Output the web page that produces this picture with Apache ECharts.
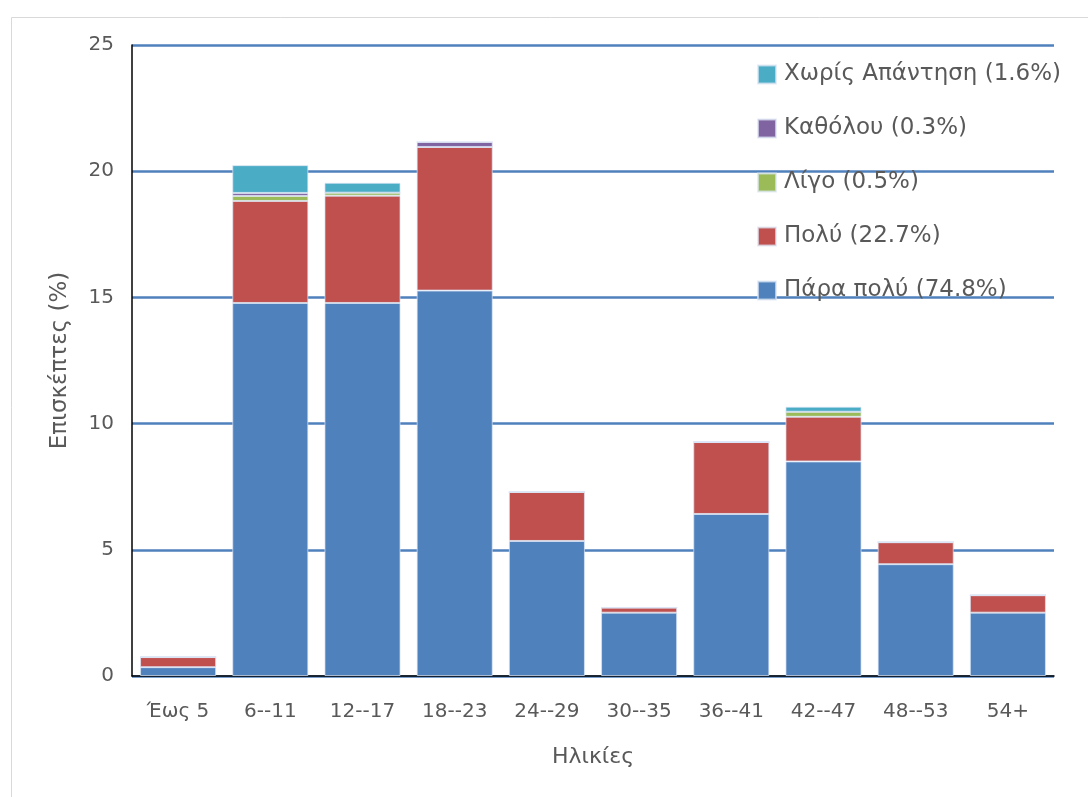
<!DOCTYPE html>
<html>
<head>
<meta charset="utf-8">
<script src="https://cdn.jsdelivr.net/npm/echarts@6/dist/echarts.min.js"></script>
<style>html,body{margin:0;padding:0;background:#fff}#c{width:1088px;height:797px}</style>
</head>
<body>
<div id="c"></div>
<script>
const categories = ['Έως 5','6--11','12--17','18--23','24--29','30--35','36--41','42--47','48--53','54+'];
const paraPoly   = [0.35, 14.78, 14.78, 15.27, 5.35, 2.51, 6.42, 8.50, 4.43, 2.51];
const poly       = [0.40, 4.04, 4.25, 5.69, 1.94, 0.20, 2.85, 1.77, 0.87, 0.69];
const ligo       = [0, 0.20, 0.12, 0, 0, 0, 0, 0.20, 0, 0];
const katholou   = [0, 0.12, 0, 0.20, 0, 0, 0, 0, 0, 0];
const xoris      = [0, 1.10, 0.39, 0, 0, 0, 0, 0.20, 0, 0];
const seriesNames = ['Πάρα πολύ (74.8%)','Πολύ (22.7%)','Λίγο (0.5%)','Καθόλου (0.3%)','Χωρίς Απάντηση (1.6%)'];
const seriesColors = ['#4F81BD','#C0504D','#9BBB59','#8064A2','#4BACC6'];
const yTicks = [0,5,10,15,20,25];

const font = '"DejaVu Sans", "Noto Sans", sans-serif';
const txt = '#595959';
const dataSets = [paraPoly, poly, ligo, katholou, xoris];

const chart = echarts.init(document.getElementById('c'), null, {renderer:'canvas'});
chart.setOption({
  animation:false,
  backgroundColor:'#fff',
  graphic:[{type:'rect', left:9, top:15, shape:{width:1200, height:900}, style:{fill:'none', stroke:'#d9d9d9', lineWidth:1}, z:-10}],
  grid:{left:132, right:34, top:45, bottom:121},
  legend:{
    orient:'vertical', left:752, top:58, itemWidth:18, itemHeight:18, itemGap:31,
    icon:'rect',
    data:[seriesNames[4],seriesNames[3],seriesNames[2],seriesNames[1],seriesNames[0]],
    textStyle:{fontFamily:font, fontSize:23, color:txt, padding:[0,0,0,3]}
  },
  xAxis:{
    type:'category', data:categories,
    name:'Ηλικίες', nameLocation:'middle', nameGap:70,
    nameTextStyle:{fontFamily:font, fontSize:22, color:txt},
    axisLine:{lineStyle:{color:'#000', width:1.5}},
    axisTick:{show:false},
    axisLabel:{fontFamily:font, fontSize:20, color:txt, margin:26}
  },
  yAxis:{
    type:'value', min:0, max:25, interval:5,
    name:'Επισκέπτες (%)', nameLocation:'middle', nameGap:60, nameRotate:90,
    nameTextStyle:{fontFamily:font, fontSize:23, color:txt},
    axisLine:{show:true, lineStyle:{color:'#000', width:1.5}},
    axisTick:{show:false},
    axisLabel:{fontFamily:font, fontSize:20, color:txt, margin:18,
      formatter:v => yTicks.includes(v) ? String(v) : ''},
    splitLine:{lineStyle:{color:'#4F81BD', width:2.5}}
  },
  series: dataSets.map((d,i)=>({
    type:'bar', name:seriesNames[i], stack:'s', data:d,
    barCategoryGap:'17.5%',
    itemStyle:{color:seriesColors[i], borderColor:'rgba(220,230,245,0.7)', borderWidth:1},
    z:2
  }))
});
</script>
</body>
</html>
